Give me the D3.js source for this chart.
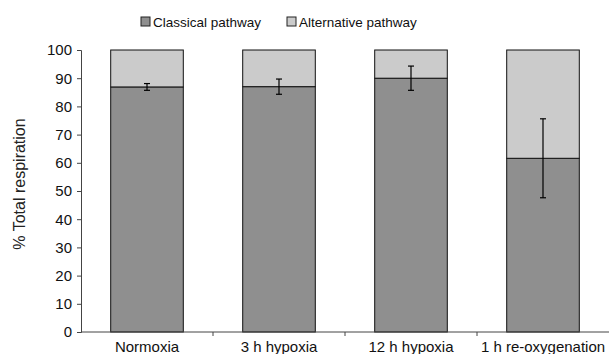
<!DOCTYPE html>
<html>
<head>
<meta charset="utf-8">
<script src="https://cdn.jsdelivr.net/npm/d3@7"></script>
<style>
  body { margin: 0; background: #fff; }
  svg text { font-family: "Liberation Sans", Arial, sans-serif; }
</style>
</head>
<body>
<script>
const categories = ['Normoxia', '3 h hypoxia', '12 h hypoxia', '1 h re-oxygenation'];
const classical = [86.9, 87.0, 90.0, 61.6];
const errors = [1.2, 2.7, 4.3, 14.0];
const seriesNames = ['Classical pathway', 'Alternative pathway'];
const yTicks = [0, 10, 20, 30, 40, 50, 60, 70, 80, 90, 100];

const colors = ['#8f8f8f', '#cbcbcb'];
const margin = { top: 50, right: 0, bottom: 22, left: 81 };
const width = 609 - margin.left - margin.right;
const height = 354 - margin.top - margin.bottom;

const svg = d3.select('body').append('svg')
  .attr('width', 609)
  .attr('height', 354);

const g = svg.append('g')
  .attr('transform', `translate(${margin.left}, ${margin.top})`);

const x = d3.scaleBand().domain(categories).range([0, width]).paddingInner(0.45).paddingOuter(0.225);
const y = d3.scaleLinear().domain([0, 100]).range([height, 0]);

// stacked bars
const stackData = categories.map((c, i) => ({ cat: c, classical: classical[i], alternative: 100 - classical[i] }));
const stack = d3.stack().keys(['classical', 'alternative'])(stackData);

g.selectAll('g.layer')
  .data(stack)
  .enter()
  .append('g')
  .attr('class', 'layer')
  .attr('fill', (d, i) => colors[i])
  .selectAll('rect')
  .data((d) => d)
  .enter()
  .append('rect')
  .attr('x', (d) => x(d.data.cat))
  .attr('y', (d) => y(d[1]))
  .attr('width', x.bandwidth())
  .attr('height', (d) => y(d[0]) - y(d[1]))
  .attr('stroke', '#111')
  .attr('stroke-width', 1);

// error bars
const eb = g.append('g').attr('stroke', '#000').attr('stroke-width', 1.2);
categories.forEach((c, i) => {
  const cx = x(c) + x.bandwidth() / 2;
  const top = y(classical[i] + errors[i]);
  const bot = y(classical[i] - errors[i]);
  eb.append('line').attr('x1', cx).attr('x2', cx).attr('y1', top).attr('y2', bot);
  eb.append('line').attr('x1', cx - 3).attr('x2', cx + 3).attr('y1', top).attr('y2', top);
  eb.append('line').attr('x1', cx - 3).attr('x2', cx + 3).attr('y1', bot).attr('y2', bot);
});

// y axis
const yAxis = g.append('g')
  .call(d3.axisLeft(y).tickValues(yTicks).tickSize(4).tickPadding(5));
yAxis.selectAll('text').attr('font-size', '15px').attr('fill', '#111').attr('font-family', 'Liberation Sans, Arial, sans-serif');
yAxis.selectAll('line, path').attr('stroke', '#444');

// x axis with ticks at category boundaries
const xAxis = g.append('g').attr('transform', `translate(0, ${height})`);
xAxis.append('line').attr('x1', 0).attr('x2', width).attr('y1', 0).attr('y2', 0).attr('stroke', '#444');
const step = x.step();
categories.slice(1).forEach((c) => {
  const bx = x(c) - (step - x.bandwidth()) / 2;
  xAxis.append('line').attr('x1', bx).attr('x2', bx).attr('y1', 0).attr('y2', 4).attr('stroke', '#444');
});
xAxis.selectAll('text.cat')
  .data(categories)
  .enter()
  .append('text')
  .attr('class', 'cat')
  .attr('x', (d) => x(d) + x.bandwidth() / 2)
  .attr('y', 20)
  .attr('text-anchor', 'middle')
  .attr('font-size', '15px')
  .attr('fill', '#111')
  .text((d) => d);

// y axis title
svg.append('text')
  .attr('transform', 'rotate(-90)')
  .attr('x', -184)
  .attr('y', 25)
  .attr('text-anchor', 'middle')
  .attr('font-size', '16px')
  .attr('fill', '#222')
  .text('% Total respiration');

// legend
const legendX = [141, 287];
const legend = svg.append('g');
seriesNames.forEach((name, i) => {
  legend.append('rect')
    .attr('x', legendX[i]).attr('y', 17)
    .attr('width', 9).attr('height', 9)
    .attr('fill', colors[i]).attr('stroke', '#222');
  legend.append('text')
    .attr('x', legendX[i] + 12).attr('y', 27)
    .attr('font-size', '13.5px')
    .attr('fill', '#111')
    .text(name);
});
</script>
</body>
</html>
